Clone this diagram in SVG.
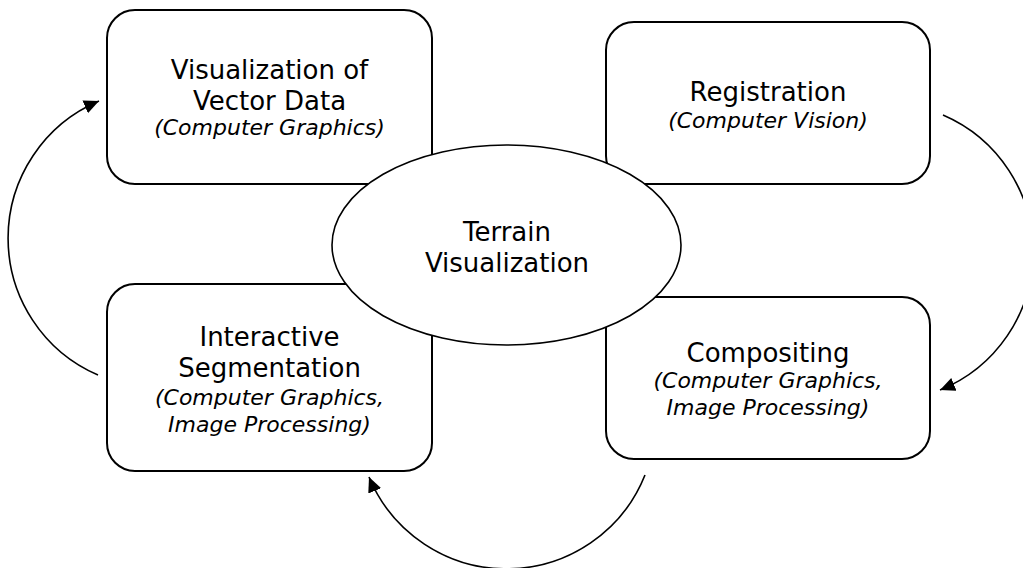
<svg xmlns="http://www.w3.org/2000/svg" width="1023" height="568" viewBox="0 0 1023 568">
  <style>
    .box { fill: #ffffff; stroke: #000000; stroke-width: 2; }
    .hub { fill: #ffffff; stroke: #000000; stroke-width: 1.6; }
    .title { font-family: "DejaVu Sans", Verdana, sans-serif; font-size: 26px; fill: #000000; text-anchor: middle; }
    .sub { font-family: "DejaVu Sans", Verdana, sans-serif; font-size: 22px; font-style: italic; fill: #000000; text-anchor: middle; }
    .flow { fill: none; stroke: #000000; stroke-width: 1.6; marker-end: url(#head); }
  </style>
  <defs>
    <marker id="head" markerUnits="userSpaceOnUse" markerWidth="16" markerHeight="16" refX="15" refY="7" orient="auto">
      <path d="M0,0 L15,7 L0,14 Z" fill="#000000"/>
    </marker>
  </defs>
  <rect width="1023" height="568" fill="#ffffff"/>

  <!-- cycle arrows -->
  <g id="connectors">
    <path class="flow" d="M 98 375 A 149 149 0 0 1 99 101"/>
    <path class="flow" d="M 943 115 A 149 149 0 0 1 940 390"/>
    <path class="flow" d="M 645 475 A 149 149 0 0 1 369 477"/>
  </g>

  <g id="vector-data">
    <rect class="box" x="107" y="10" width="325" height="174" rx="28" ry="28"/>
    <text class="title" x="269.5" y="79">Visualization of</text>
    <text class="title" x="269.5" y="110">Vector Data</text>
    <text class="sub" x="269.5" y="135">(Computer Graphics)</text>
  </g>

  <g id="registration">
    <rect class="box" x="606" y="22" width="324" height="162" rx="28" ry="28"/>
    <text class="title" x="768" y="101">Registration</text>
    <text class="sub" x="768" y="128">(Computer Vision)</text>
  </g>

  <g id="segmentation">
    <rect class="box" x="107" y="284" width="325" height="187" rx="28" ry="28"/>
    <text class="title" x="269.5" y="346">Interactive</text>
    <text class="title" x="269.5" y="377">Segmentation</text>
    <text class="sub" x="269.5" y="405">(Computer Graphics,</text>
    <text class="sub" x="269.5" y="432">Image Processing)</text>
  </g>

  <g id="compositing">
    <rect class="box" x="606" y="297" width="324" height="162" rx="28" ry="28"/>
    <text class="title" x="768" y="362">Compositing</text>
    <text class="sub" x="768" y="388">(Computer Graphics,</text>
    <text class="sub" x="768" y="415">Image Processing)</text>
  </g>

  <g id="terrain">
    <ellipse class="hub" cx="506.5" cy="245" rx="174.5" ry="100"/>
    <text class="title" x="507" y="241">Terrain</text>
    <text class="title" x="507" y="272">Visualization</text>
  </g>
</svg>
